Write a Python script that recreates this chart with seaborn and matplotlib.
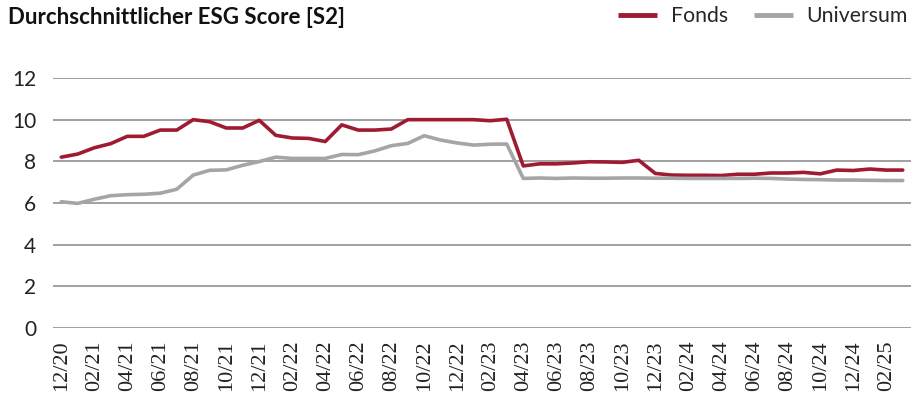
import numpy as np
import pandas as pd
import matplotlib
matplotlib.use("Agg")
import matplotlib.pyplot as plt
import seaborn as sns
from matplotlib.lines import Line2D

months = ["12/20", "01/21", "02/21", "03/21", "04/21", "05/21", "06/21", "07/21", "08/21", "09/21",
          "10/21", "11/21", "12/21", "01/22", "02/22", "03/22", "04/22", "05/22", "06/22", "07/22",
          "08/22", "09/22", "10/22", "11/22", "12/22", "01/23", "02/23", "03/23", "04/23", "05/23",
          "06/23", "07/23", "08/23", "09/23", "10/23", "11/23", "12/23", "01/24", "02/24", "03/24",
          "04/24", "05/24", "06/24", "07/24", "08/24", "09/24", "10/24", "11/24", "12/24", "01/25",
          "02/25", "03/25"]

fonds = [8.20, 8.35, 8.65, 8.85, 9.20, 9.20, 9.50, 9.50, 10.00, 9.90,
         9.60, 9.60, 9.97, 9.25, 9.12, 9.10, 8.95, 9.75, 9.50, 9.50,
         9.55, 10.00, 10.00, 10.00, 10.00, 10.00, 9.95, 10.02, 7.78, 7.88,
         7.88, 7.92, 7.98, 7.97, 7.95, 8.05, 7.42, 7.34, 7.33, 7.33,
         7.32, 7.38, 7.38, 7.44, 7.44, 7.47, 7.40, 7.58, 7.56, 7.63,
         7.58, 7.58]

universum = [6.06, 5.98, 6.18, 6.35, 6.40, 6.42, 6.47, 6.66, 7.34, 7.57,
             7.59, 7.81, 7.99, 8.20, 8.14, 8.14, 8.14, 8.33, 8.32, 8.50,
             8.75, 8.86, 9.23, 9.02, 8.88, 8.78, 8.82, 8.83, 7.18, 7.20,
             7.18, 7.20, 7.19, 7.19, 7.20, 7.20, 7.19, 7.19, 7.18, 7.18,
             7.18, 7.18, 7.19, 7.18, 7.15, 7.13, 7.12, 7.10, 7.10, 7.09,
             7.08, 7.08]

series_names = ["Fonds", "Universum"]
colors = ["#9E1B32", "#A5A5A5"]
title = "Durchschnittlicher ESG Score [S2]"
yticks = [0, 2, 4, 6, 8, 10, 12]

n = len(months)
df = pd.DataFrame({
    "idx": list(range(n)) * 2,
    "value": fonds + universum,
    "series": [series_names[0]] * n + [series_names[1]] * n,
})

sns.set_theme(style="white")
plt.rcParams["font.family"] = ["Lato", "DejaVu Sans"]

fig = plt.figure(figsize=(9.21, 4.00), dpi=100)
ax = fig.add_axes([53 / 921, 1 - 328 / 400, (911 - 53) / 921, (328 - 78) / 400])

sns.lineplot(data=df, x="idx", y="value", hue="series", palette=colors,
             hue_order=series_names, linewidth=2.6, ax=ax, legend=False)

ax.set_xlim(-0.5, n - 0.5)
ax.set_ylim(0, 12)
ax.set_yticks(yticks)
ax.set_yticklabels([str(t) for t in yticks], fontsize=15, color="#222222")
ax.set_xticks(list(range(0, n, 2)))
ax.set_xticklabels([months[i] for i in range(0, n, 2)], rotation=90,
                   fontsize=16, family="Liberation Serif", color="#222222")
ax.tick_params(axis="both", length=0)
ax.tick_params(axis="y", pad=12)
ax.tick_params(axis="x", pad=9)
ax.set_xlabel("")
ax.set_ylabel("")
for yv in yticks:
    ax.axhline(yv, color="#A0A0A0", lw=1.4, zorder=0)
for s in ax.spines.values():
    s.set_visible(False)
ax.grid(False)

fig.text(8 / 921, 1 - 18 / 400, title, fontsize=16, fontweight="bold",
         va="center", ha="left", color="#111111")

handles = [Line2D([0], [0], color=c, lw=3.5, solid_capstyle="butt") for c in colors]
fig.legend(handles, series_names, loc="center right", bbox_to_anchor=(908 / 921, 1 - 16 / 400),
           ncol=2, frameon=False, fontsize=15.3, handlelength=1.85, handletextpad=0.65,
           columnspacing=1.2, borderaxespad=0, borderpad=0)

fig.savefig("out.png", dpi=100)
